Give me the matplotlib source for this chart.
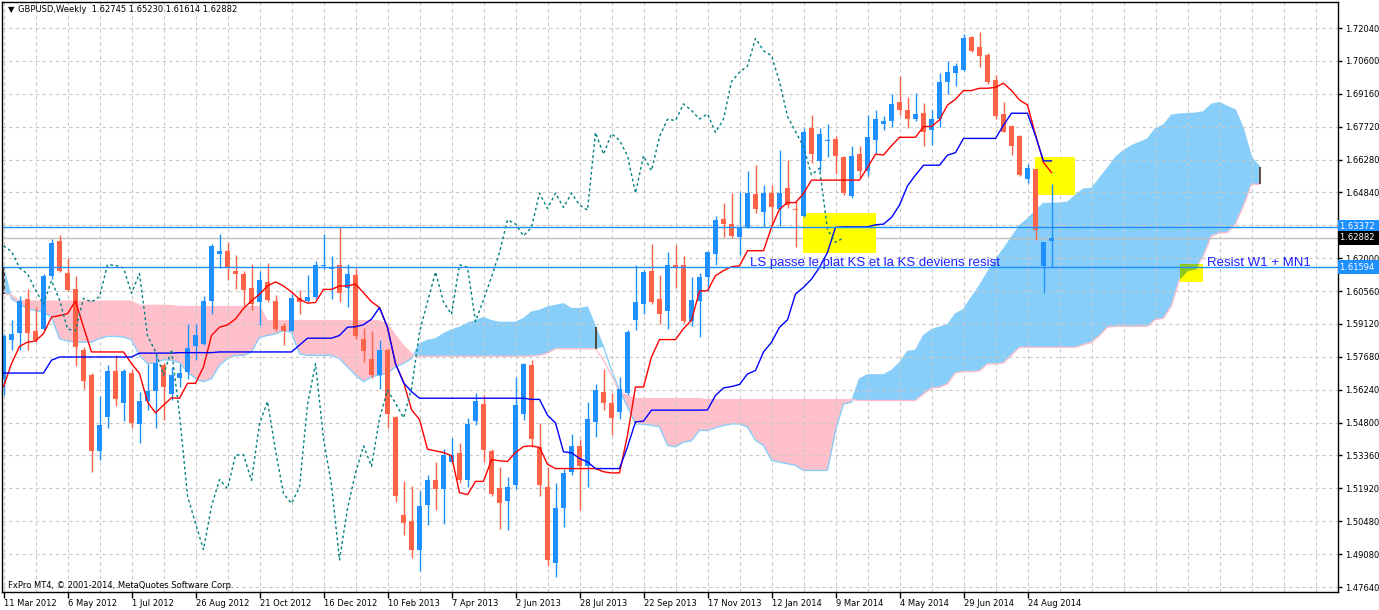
import numpy as np
import matplotlib.pyplot as plt
import matplotlib.transforms as mtransforms
from matplotlib.patches import Rectangle

# GBPUSD weekly bars, week of 11 Mar 2012 .. week of 14 Sep 2014
open_ = [1.5672, 1.5841, 1.5872, 1.6022, 1.5880, 1.5891, 1.6120, 1.6276, 1.6134, 1.6065,
         1.5800, 1.5691, 1.5358, 1.5507, 1.5706, 1.5565, 1.5696, 1.5475, 1.5575, 1.5619,
         1.5735, 1.5608, 1.5677, 1.5703, 1.5818, 1.5826, 1.6013, 1.6217, 1.6232, 1.6145,
         1.6132, 1.6067, 1.6006, 1.6096, 1.6013, 1.5902, 1.5883, 1.6027, 1.6013, 1.6031,
         1.6165, 1.6150, 1.6171, 1.6070, 1.6127, 1.5847, 1.5761, 1.5689, 1.5797, 1.5506,
         1.5078, 1.5050, 1.4927, 1.5121, 1.5233, 1.5193, 1.5311, 1.5347, 1.5233, 1.5488,
         1.5563, 1.5358, 1.5196, 1.5139, 1.5208, 1.5517, 1.5732, 1.5373, 1.5201, 1.4867,
         1.5107, 1.5267, 1.5380, 1.5291, 1.5485, 1.5615, 1.5565, 1.5528, 1.5611, 1.5931,
         1.6001, 1.6143, 1.6022, 1.5969, 1.6170, 1.6170, 1.5923, 1.6013, 1.6118, 1.6217,
         1.6370, 1.6348, 1.6290, 1.6334, 1.6479, 1.6399, 1.6483, 1.6413, 1.6504, 1.6416,
         1.6384, 1.6767, 1.6624, 1.6711, 1.6718, 1.6643, 1.6472, 1.6653, 1.6578, 1.6717,
         1.6786, 1.6800, 1.6879, 1.6844, 1.6807, 1.6832, 1.6759, 1.6806, 1.6967, 1.7009,
         1.7021, 1.7163, 1.7123, 1.7086, 1.6977, 1.6828, 1.6777, 1.6733, 1.6544, 1.6588,
         1.6164, 1.62745]
high_ = [1.5870, 1.5928, 1.6036, 1.6065, 1.5986, 1.6131, 1.6283, 1.6300, 1.6199, 1.6123,
         1.5812, 1.5696, 1.5598, 1.5732, 1.5775, 1.5717, 1.5717, 1.5616, 1.5739, 1.5775,
         1.5740, 1.5725, 1.5739, 1.5912, 1.5912, 1.6034, 1.6262, 1.6305, 1.6269, 1.6214,
         1.6142, 1.6176, 1.6142, 1.6178, 1.6037, 1.5916, 1.6042, 1.6060, 1.6128, 1.6186,
         1.6305, 1.6207, 1.6337, 1.6176, 1.6156, 1.5894, 1.5880, 1.5843, 1.5808, 1.5512,
         1.5225, 1.5205, 1.5182, 1.5251, 1.5308, 1.5368, 1.5416, 1.5392, 1.5502, 1.5610,
         1.5600, 1.5366, 1.5287, 1.5244, 1.5682, 1.5742, 1.5753, 1.5480, 1.5289, 1.5219,
         1.5277, 1.5434, 1.5409, 1.5572, 1.5652, 1.5717, 1.5611, 1.5681, 1.5884, 1.6168,
         1.6149, 1.6262, 1.6127, 1.6226, 1.6255, 1.6211, 1.6117, 1.6134, 1.6232, 1.6384,
         1.6442, 1.6482, 1.6486, 1.6578, 1.6607, 1.6518, 1.6520, 1.6671, 1.6627, 1.6450,
         1.6769, 1.6825, 1.6769, 1.6787, 1.6733, 1.6646, 1.6687, 1.6687, 1.6825, 1.6845,
         1.6818, 1.6916, 1.6995, 1.6902, 1.6919, 1.6876, 1.6847, 1.7006, 1.7060, 1.7050,
         1.7178, 1.7169, 1.7188, 1.7096, 1.6999, 1.6883, 1.6780, 1.6738, 1.6611, 1.6588,
         1.6272, 1.65230]
low_ = [1.5601, 1.5797, 1.5800, 1.5800, 1.5833, 1.5885, 1.6110, 1.6141, 1.6058, 1.5727,
        1.5627, 1.5268, 1.5318, 1.5456, 1.5553, 1.5490, 1.5456, 1.5394, 1.5536, 1.5456,
        1.5493, 1.5580, 1.5638, 1.5674, 1.5754, 1.5822, 1.5955, 1.6157, 1.6106, 1.6063,
        1.5991, 1.5974, 1.5908, 1.6006, 1.5883, 1.5821, 1.5880, 1.5955, 1.6008, 1.6020,
        1.6150, 1.6020, 1.6006, 1.5988, 1.5847, 1.5746, 1.5675, 1.5627, 1.5459, 1.5133,
        1.4992, 1.4891, 1.4834, 1.5035, 1.5100, 1.5038, 1.5305, 1.5219, 1.5200, 1.5469,
        1.5311, 1.5162, 1.5018, 1.5014, 1.5193, 1.5495, 1.5376, 1.5161, 1.4856, 1.4809,
        1.5027, 1.5252, 1.5100, 1.5201, 1.5419, 1.5536, 1.5427, 1.5499, 1.5600, 1.5884,
        1.5954, 1.6000, 1.5910, 1.5892, 1.6070, 1.5915, 1.5902, 1.5855, 1.6057, 1.6171,
        1.6290, 1.6287, 1.6214, 1.6331, 1.6395, 1.6341, 1.6341, 1.6341, 1.6420, 1.6249,
        1.6377, 1.6613, 1.6581, 1.6639, 1.6566, 1.6477, 1.6464, 1.6549, 1.6559, 1.6653,
        1.6759, 1.6774, 1.6825, 1.6767, 1.6800, 1.6687, 1.6694, 1.6771, 1.6916, 1.6951,
        1.7018, 1.7100, 1.7033, 1.6960, 1.6806, 1.6748, 1.6650, 1.6559, 1.6527, 1.6280,
        1.6047, 1.61614]
close_ = [1.5860, 1.5870, 1.6012, 1.5872, 1.5843, 1.6123, 1.6265, 1.6145, 1.6061, 1.5812,
          1.5662, 1.5358, 1.5471, 1.5706, 1.5584, 1.5706, 1.5482, 1.5575, 1.5619, 1.5742,
          1.5638, 1.5688, 1.5699, 1.5808, 1.5864, 1.6013, 1.6253, 1.6229, 1.6157, 1.6131,
          1.6060, 1.5998, 1.6102, 1.6017, 1.5890, 1.5883, 1.6024, 1.6008, 1.6031, 1.6171,
          1.6168, 1.6157, 1.6046, 1.6132, 1.5861, 1.5792, 1.5689, 1.5800, 1.5517, 1.5162,
          1.5042, 1.4927, 1.5117, 1.5233, 1.5193, 1.5340, 1.5341, 1.5229, 1.5476, 1.5574,
          1.5361, 1.5172, 1.5129, 1.5200, 1.5560, 1.5739, 1.5412, 1.5209, 1.4882, 1.5107,
          1.5262, 1.5380, 1.5291, 1.5499, 1.5623, 1.5567, 1.5502, 1.5630, 1.5877, 1.6008,
          1.6139, 1.6008, 1.5954, 1.6170, 1.6160, 1.5923, 1.6018, 1.6117, 1.6225, 1.6367,
          1.6348, 1.6297, 1.6334, 1.6483, 1.6416, 1.6483, 1.6421, 1.6483, 1.6432, 1.6409,
          1.6748, 1.6653, 1.6743, 1.6714, 1.6646, 1.6483, 1.6646, 1.6581, 1.6730, 1.6806,
          1.6800, 1.6873, 1.6844, 1.6807, 1.6829, 1.6748, 1.6806, 1.6970, 1.7011, 1.7038,
          1.7159, 1.7105, 1.7083, 1.6970, 1.6818, 1.6752, 1.6687, 1.6563, 1.6592, 1.6324,
          1.6268, 1.62882]

# Ichimoku lines
tenkan = [1.5638, 1.5739, 1.5814, 1.5833, 1.5838, 1.5870, 1.5942, 1.5949, 1.5957, 1.6012,
          1.5899, 1.5790, 1.5790, 1.5790, 1.5790, 1.5790, 1.5739, 1.5696, 1.5572, 1.5524,
          1.5558, 1.5590, 1.5588, 1.5653, 1.5653, 1.5725, 1.5862, 1.5898, 1.5908, 1.5934,
          1.5980, 1.6013, 1.6042, 1.6078, 1.6096, 1.6078, 1.6052, 1.6020, 1.6003, 1.6006,
          1.6063, 1.6063, 1.6078, 1.6078, 1.6087, 1.6048, 1.6009, 1.5984, 1.5897, 1.5739,
          1.5660, 1.5538, 1.5495, 1.5366, 1.5358, 1.5351, 1.5337, 1.5176, 1.5167, 1.5225,
          1.5225, 1.5320, 1.5315, 1.5312, 1.5351, 1.5377, 1.5380, 1.5373, 1.5300, 1.5281,
          1.5281, 1.5281, 1.5281, 1.5281, 1.5281, 1.5267, 1.5262, 1.5262, 1.5427, 1.5637,
          1.5637, 1.5768, 1.5844, 1.5844, 1.5844, 1.5892, 1.5928, 1.6056, 1.6057, 1.6123,
          1.6145, 1.6162, 1.6166, 1.6232, 1.6232, 1.6232, 1.6334, 1.6413, 1.6442, 1.6442,
          1.6482, 1.6540, 1.6540, 1.6540, 1.6540, 1.6540, 1.6540, 1.6540, 1.6595, 1.6653,
          1.6650, 1.6690, 1.6727, 1.6727, 1.6727, 1.6774, 1.6774, 1.6803, 1.6868, 1.6893,
          1.6931, 1.6931, 1.6941, 1.6941, 1.6945, 1.6963, 1.6931, 1.6890, 1.6868, 1.6738,
          1.6617, 1.6573]
kijun = [1.5698, 1.5698, 1.5698, 1.5698, 1.5698, 1.5698, 1.5754, 1.5768, 1.5768, 1.5768,
         1.5768, 1.5768, 1.5768, 1.5768, 1.5768, 1.5768, 1.5768, 1.5785, 1.5785, 1.5785,
         1.5785, 1.5785, 1.5787, 1.5787, 1.5787, 1.5787, 1.5787, 1.5790, 1.5790, 1.5790,
         1.5790, 1.5790, 1.5790, 1.5790, 1.5790, 1.5790, 1.5790, 1.5820, 1.5850, 1.5850,
         1.5850, 1.5850, 1.5862, 1.5898, 1.5900, 1.5909, 1.5933, 1.5984, 1.5897, 1.5739,
         1.5656, 1.5617, 1.5588, 1.5588, 1.5588, 1.5588, 1.5588, 1.5588, 1.5588, 1.5588,
         1.5588, 1.5588, 1.5588, 1.5588, 1.5588, 1.5588, 1.5583, 1.5583, 1.5514, 1.5480,
         1.5354, 1.5350, 1.5325, 1.5310, 1.5281, 1.5281, 1.5281, 1.5281, 1.5376, 1.5485,
         1.5488, 1.5536, 1.5536, 1.5536, 1.5536, 1.5536, 1.5536, 1.5536, 1.5537, 1.5600,
         1.5633, 1.5639, 1.5648, 1.5694, 1.5709, 1.5790, 1.5832, 1.5898, 1.5930, 1.6043,
         1.6072, 1.6108, 1.6159, 1.6225, 1.6334, 1.6336, 1.6336, 1.6336, 1.6336, 1.6345,
         1.6348, 1.6377, 1.6431, 1.6515, 1.6562, 1.6605, 1.6605, 1.6605, 1.6649, 1.6660,
         1.6722, 1.6722, 1.6722, 1.6722, 1.6722, 1.6780, 1.6832, 1.6832, 1.6832, 1.6733,
         1.6624, 1.6624]
# senkou spans, already shifted 26 weeks ahead (158 points)
senkou_a = [1.6160, 1.6022, 1.6000, 1.5978, 1.5971, 1.5964, 1.5942, 1.5848, 1.5838, 1.5833,
            1.5833, 1.5833, 1.5848, 1.5858, 1.5858, 1.5855, 1.5843, 1.5775, 1.5739, 1.5742,
            1.5756, 1.5754, 1.5744, 1.5703, 1.5674, 1.5660, 1.5674, 1.5732, 1.5761, 1.5775,
            1.5775, 1.5790, 1.5854, 1.5862, 1.5869, 1.5883, 1.5876, 1.5782, 1.5775, 1.5775,
            1.5775, 1.5775, 1.5761, 1.5725, 1.5689, 1.5660, 1.5682, 1.5689, 1.5696, 1.5725,
            1.5739, 1.5761, 1.5825, 1.5840, 1.5847, 1.5869, 1.5886, 1.5897, 1.5915, 1.5926,
            1.5940, 1.5926, 1.5919, 1.5919, 1.5919, 1.5935, 1.5964, 1.5971, 1.5986, 1.5993,
            1.6000, 1.5979, 1.5979, 1.5986, 1.5899, 1.5812, 1.5710, 1.5623, 1.5550, 1.5477,
            1.5474, 1.5470, 1.5463, 1.5383, 1.5376, 1.5397, 1.5402, 1.5448, 1.5447, 1.5459,
            1.5469, 1.5476, 1.5476, 1.5462, 1.5404, 1.5382, 1.5316, 1.5309, 1.5302, 1.5295,
            1.5273, 1.5273, 1.5273, 1.5273, 1.5447, 1.5563, 1.5571, 1.5672, 1.5690, 1.5690,
            1.5690, 1.5709, 1.5742, 1.5792, 1.5796, 1.5861, 1.5887, 1.5898, 1.5908, 1.5956,
            1.5975, 1.6028, 1.6079, 1.6137, 1.6193, 1.6239, 1.6290, 1.6341, 1.6370, 1.6406,
            1.6438, 1.6438, 1.6440, 1.6443, 1.6474, 1.6501, 1.6503, 1.6547, 1.6591, 1.6639,
            1.6668, 1.6690, 1.6704, 1.6719, 1.6765, 1.6780, 1.6823, 1.6828, 1.6830, 1.6832,
            1.6838, 1.6871, 1.6878, 1.6861, 1.6846, 1.6762, 1.6639, 1.6599]
senkou_b = [1.6044, 1.6039, 1.6012, 1.6012, 1.6012, 1.6012, 1.6012, 1.6012, 1.6012, 1.6012,
            1.6012, 1.6012, 1.6012, 1.6012, 1.6012, 1.6012, 1.6012, 1.5993, 1.5993, 1.5993,
            1.5993, 1.5993, 1.5988, 1.5988, 1.5988, 1.5988, 1.5988, 1.5988, 1.5988, 1.5988,
            1.5988, 1.5988, 1.5988, 1.5926, 1.5926, 1.5926, 1.5926, 1.5926, 1.5926, 1.5926,
            1.5926, 1.5926, 1.5926, 1.5926, 1.5926, 1.5926, 1.5926, 1.5926, 1.5912, 1.5861,
            1.5818, 1.5782, 1.5771, 1.5771, 1.5771, 1.5771, 1.5771, 1.5771, 1.5771, 1.5771,
            1.5771, 1.5771, 1.5771, 1.5771, 1.5771, 1.5771, 1.5772, 1.5775, 1.5785, 1.5804,
            1.5804, 1.5804, 1.5804, 1.5804, 1.5804, 1.5753, 1.5688, 1.5615, 1.5600, 1.5586,
            1.5586, 1.5586, 1.5586, 1.5586, 1.5586, 1.5586, 1.5586, 1.5586, 1.5582, 1.5582,
            1.5582, 1.5582, 1.5582, 1.5582, 1.5582, 1.5582, 1.5582, 1.5582, 1.5582, 1.5582,
            1.5582, 1.5582, 1.5582, 1.5582, 1.5582, 1.5582, 1.5582, 1.5578, 1.5578, 1.5578,
            1.5578, 1.5578, 1.5578, 1.5578, 1.5578, 1.5607, 1.5632, 1.5636, 1.5651, 1.5699,
            1.5704, 1.5704, 1.5707, 1.5738, 1.5738, 1.5742, 1.5777, 1.5810, 1.5810, 1.5810,
            1.5810, 1.5810, 1.5810, 1.5810, 1.5810, 1.5822, 1.5832, 1.5861, 1.5898, 1.5902,
            1.5902, 1.5902, 1.5902, 1.5902, 1.5931, 1.5937, 1.5992, 1.6108, 1.6145, 1.6152,
            1.6210, 1.6297, 1.6309, 1.6312, 1.6348, 1.6428, 1.6522, 1.6522]

date_labels = ['11 Mar 2012', '6 May 2012', '1 Jul 2012', '26 Aug 2012', '21 Oct 2012',
               '16 Dec 2012', '10 Feb 2013', '7 Apr 2013', '2 Jun 2013', '28 Jul 2013',
               '22 Sep 2013', '17 Nov 2013', '12 Jan 2014', '9 Mar 2014', '4 May 2014',
               '29 Jun 2014', '24 Aug 2014']
# the 1.634 grid label sits under the 1.63372 marker, so it is left blank
price_labels = ['1.47640', '1.49080', '1.50480', '1.51920', '1.53360', '1.54800',
                '1.56240', '1.57680', '1.59120', '1.60560', '1.62000', '',
                '1.64840', '1.66280', '1.67720', '1.69160', '1.70600', '1.72040']

# user objects drawn on the chart
hline_levels = [1.63372, 1.61594]
yellow_boxes = [(99.9, 109.1, 1.6222, 1.6396),
                (128.9, 133.9, 1.6475, 1.6640),
                (147.0, 149.9, 1.6097, 1.6174)]
note_main = 'LS passe le plat KS et la KS deviens resist'
note_right = 'Resist W1 + MN1'

plt.rcParams['font.family'] = 'DejaVu Sans'

W, H = 1379, 610
fig = plt.figure(figsize=(W / 100, H / 100), dpi=100)
ax = fig.add_axes([1.5 / W, 18 / H, 1336 / W, 590.5 / H])

o = np.array(open_); h = np.array(high_); l = np.array(low_); c = np.array(close_)
xs = np.arange(len(c))
xc = np.arange(len(senkou_a))
sa = np.array(senkou_a); sb = np.array(senkou_b)

BULL, BEAR = '#1E90FF', '#FF6347'
SKY, PINK = '#87CEFA', '#FFC0CB'

# cloud
gap = (xc > 74) & (xc < 78)
ax.fill_between(xc, sa, sb, where=(sa >= sb) & ~gap, interpolate=True,
                color=SKY, lw=0, zorder=1)
ax.fill_between(xc, sa, sb, where=(sa < sb) & ~gap, interpolate=True,
                color=PINK, lw=0, zorder=1)
ax.plot(xc, sa, color=SKY, lw=1, zorder=1.2)
ax.plot(xc, sb, color=PINK, lw=1, zorder=1.2)
ends = [0, 74, len(xc) - 1]
ax.vlines(xc[ends], sb[ends], sa[ends], colors='#4A3020', lw=1.2, zorder=1.3)

# yellow boxes (green where they overlap the cloud)
for x0, x1, y0, y1 in yellow_boxes:
    rect = Rectangle((x0, y0), x1 - x0, y1 - y0, fc='#FFFF00', ec='none', zorder=2)
    ax.add_patch(rect)
    g = ax.fill_between(xc, sa, sb, color='#8CC81E', lw=0, zorder=2.1)
    g.set_clip_path(rect)

# candles
cols = np.where(c >= o, BULL, BEAR)
ax.vlines(xs, l, h, colors=cols, lw=1, zorder=3)
body = np.maximum(np.abs(c - o), 0.0002)
ax.bar(xs, body, bottom=np.minimum(o, c), width=0.66, color=cols, lw=0, zorder=3.1)

# tenkan, kijun, chikou
ax.plot(xs, tenkan, color='#FF0000', lw=1, zorder=4)
ax.plot(xs, kijun, color='#0000FF', lw=1, zorder=4)
ax.plot(xs[26:] - 26, c[26:], color='#008080', lw=1, ls=(0, (2, 2)), zorder=4)

# horizontal lines: user levels + bid line
for lev in hline_levels:
    ax.axhline(lev, color='#1E90FF', lw=1, zorder=4.5)
ax.axhline(c[-1], color='#C0C0C0', lw=1, zorder=1.4)

ax.text(93.3, 1.6163, note_main, fontsize=9.5, family='Liberation Sans',
        color='#1E1EFF', va='baseline', ha='left', zorder=6)
ax.text(150.45, 1.6165, note_right, fontsize=9.5, family='Liberation Sans',
        color='#1E1EFF', va='baseline', ha='left', zorder=6)

# axes / grid
ax.set_xlim(-0.25, 166.75)
ax.set_ylim(1.47422, 1.73197)
ax.yaxis.tick_right()
ax.set_yticks(np.linspace(1.4764, 1.7204, len(price_labels)))
ax.set_yticklabels(price_labels)
ax.set_xticks(np.arange(len(date_labels)) * 8)
ax.set_xticklabels(date_labels, ha='left')
ax.set_xticks(np.arange(0, 168, 4), minor=True)
ax.tick_params(axis='x', which='major', length=4, pad=1, labelsize=6, width=1)
ax.tick_params(axis='x', which='minor', length=0)
ax.tick_params(axis='y', length=3, pad=2.5, labelsize=6, width=1)
grid_kw = dict(color='#C8C8C8', lw=0.8, ls=(0, (3, 3)))
ax.grid(True, which='both', axis='x', **grid_kw)
ax.grid(True, which='major', axis='y', **grid_kw)
ax.xaxis.set_zorder(1.5)
ax.yaxis.set_zorder(1.5)
for sp in ax.spines.values():
    sp.set_color('black')
    sp.set_linewidth(1)
    sp.set_zorder(7)

# price markers on the right scale
trans = mtransforms.blended_transform_factory(ax.transAxes, ax.transData)
trans = mtransforms.offset_copy(trans, fig=fig, x=3, y=0, units='dots')
for val, bg in [(hline_levels[0], '#1E90FF'), (c[-1], 'black'), (hline_levels[1], '#1E90FF')]:
    ax.text(1.0, val, f'{val:.5f} ', transform=trans, ha='left', va='center',
            fontsize=6, color='white', zorder=10, clip_on=False,
            bbox=dict(boxstyle='square,pad=0.3', fc=bg, ec='none'))

# header and footer
fig.text(8 / W, 1 - 10 / H, '\u25bc', fontsize=6, va='center', ha='left')
fig.text(18 / W, 1 - 10 / H,
         f'GBPUSD,Weekly  {o[-1]:.5f} {h[-1]:.5f} {l[-1]:.5f} {c[-1]:.5f}',
         fontsize=6, va='center', ha='left')
fig.text(8 / W, 1 - 585 / H, 'FxPro MT4, \u00a9 2001-2014, MetaQuotes Software Corp.',
         fontsize=6, va='center', ha='left')

fig.savefig('out.png', dpi=100)
plt.close(fig)
